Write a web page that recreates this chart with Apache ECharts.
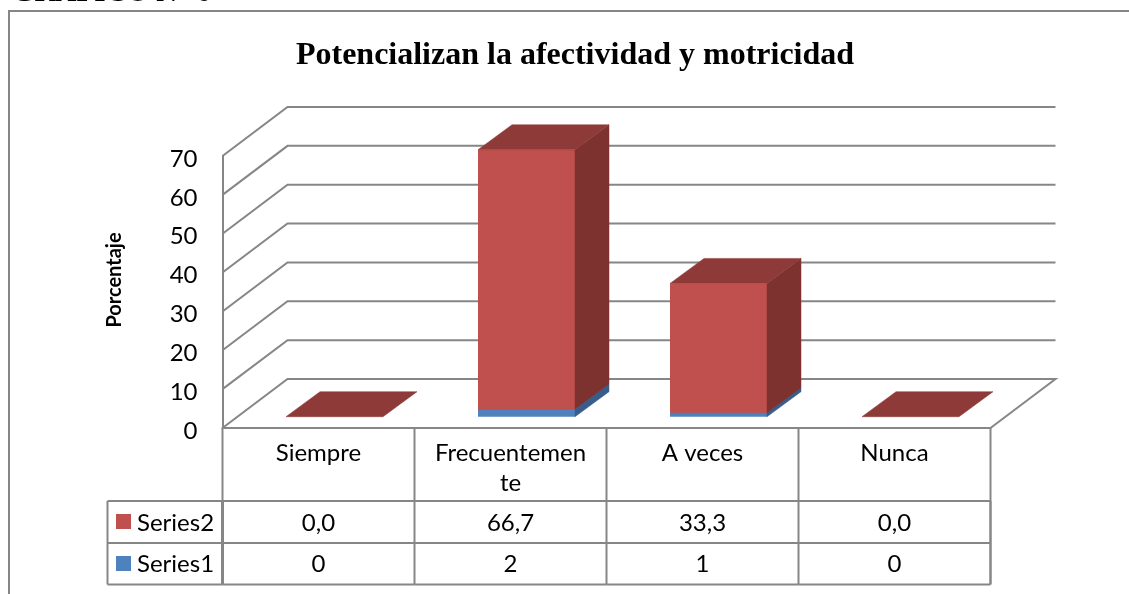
<!DOCTYPE html>
<html><head><meta charset="utf-8">
<style>html,body{margin:0;padding:0;background:#fff}#c{width:1129px;height:594px}</style>
<script src="https://cdn.jsdelivr.net/npm/echarts@6/dist/echarts.min.js"></script>
</head><body><div id="c"></div>
<script>
const categories = ['Siempre', 'Frecuentemente', 'A veces', 'Nunca'];
const categoryLabels = ['Siempre', 'Frecuentemen\nte', 'A veces', 'Nunca'];
const series1Values = [0, 2, 1, 0];
const series2Values = [0.0, 66.7, 33.3, 0.0];
const yTicks = [0, 10, 20, 30, 40, 50, 60, 70];
const seriesNames = ['Series1', 'Series2'];
const chartTitle = 'Potencializan la afectividad y motricidad';
const pageHeading = 'GRAFICO N° 6';
const axisTitle = 'Porcentaje';

const LINE = '#868686';
const FONT = 'Lato';
const DX = 65, DY = -49;
const BAR_DX = 34, BAR_DY = -25, OFF_DX = 16, OFF_DY = -11.3, BAR_W = 97;
const palette = {
  Series1: {front: '#4F81BD', top: '#3F6797', side: '#385D8A'},
  Series2: {front: '#C0504D', top: '#8E3A38', side: '#7D3230'}
};
const ROW = {top: 501, mid: 543, bottom: 584.5, left: 107.5};

function poly(points, fill) {
  return {type: 'polygon', shape: {points}, style: {fill, stroke: fill, lineWidth: 0.5}};
}
function line(x1, y1, x2, y2, w) {
  return {type: 'line', shape: {x1, y1, x2, y2}, style: {stroke: LINE, lineWidth: w || 2, fill: null}};
}
function txt(x, y, text, align) {
  return {type: 'text', style: {x, y, text, fill: '#000', font: '24px ' + FONT, align: align || 'center', verticalAlign: 'middle'}};
}

function renderWall(params, api) {
  const v = api.value(0);
  const y = api.coord([0, v])[1];
  const band = api.size([1, 0])[0];
  const x0 = api.coord([0, v])[0] - band / 2;
  const x1 = x0 + band * categories.length;
  const pts = [[x0, y], [x0 + DX, y + DY], [x1 + DX, y + DY]];
  if (v === 0) pts.push([x1, y]);
  return {type: 'polyline', shape: {points: pts}, style: {stroke: LINE, lineWidth: 2, fill: null}};
}

function renderBar(name) {
  return function (params, api) {
    const cat = api.value(0), base = api.value(1), top = api.value(2);
    const c = palette[name];
    const cx = api.coord([cat, 0])[0] + OFF_DX;
    const xl = cx - BAR_W / 2, xr = cx + BAR_W / 2;
    const yb = api.coord([cat, base])[1] + OFF_DY;
    const yt = api.coord([cat, top])[1] + OFF_DY;
    const children = [];
    if (top > base) {
      children.push({type: 'rect', shape: {x: xl, y: yt, width: BAR_W, height: yb - yt}, style: {fill: c.front}});
      children.push(poly([[xr, yb], [xr + BAR_DX, yb + BAR_DY], [xr + BAR_DX, yt + BAR_DY], [xr, yt]], c.side));
    }
    if (top > base || name === 'Series2') {
      children.push(poly([[xl, yt], [xl + BAR_DX, yt + BAR_DY], [xr + BAR_DX, yt + BAR_DY], [xr, yt]], c.top));
    }
    return {type: 'group', children};
  };
}

function renderTable(params, api) {
  const i = api.value(0);
  const band = api.size([1, 0])[0];
  const cx = api.coord([i, 0])[0];
  const y0 = api.coord([i, 0])[1];
  const xl = cx - band / 2, xr = cx + band / 2;
  const last = categories.length - 1;
  const ch = [
    line(xr, y0, xr, ROW.top, 2),
    line(xr, ROW.top, xr, ROW.bottom, i === last ? 2.5 : 2),
    line(xl, ROW.top, xr, ROW.top),
    line(xl, ROW.mid, xr, ROW.mid),
    line(xl, ROW.bottom, xr, ROW.bottom),
    txt(cx, (ROW.top + ROW.mid) / 2 + 1, series2Values[i].toFixed(1).replace('.', ',')),
    txt(cx, (ROW.mid + ROW.bottom) / 2 + 1, String(series1Values[i]))
  ];
  if (i === 0) {
    ch.push(line(xl, y0, xl, ROW.top, 2), line(xl, ROW.top, xl, ROW.bottom, 3),
      line(ROW.left, ROW.top, xl, ROW.top), line(ROW.left, ROW.mid, xl, ROW.mid),
      line(ROW.left, ROW.bottom, xl, ROW.bottom), line(ROW.left, ROW.top, ROW.left, ROW.bottom),
      {type: 'rect', shape: {x: 116, y: 514, width: 15, height: 15}, style: {fill: palette.Series2.front}},
      {type: 'rect', shape: {x: 116, y: 556, width: 15, height: 15}, style: {fill: palette.Series1.front}},
      txt(137, (ROW.top + ROW.mid) / 2 + 1, seriesNames[1], 'left'),
      txt(137, (ROW.mid + ROW.bottom) / 2 + 1, seriesNames[0], 'left'));
  }
  return {type: 'group', children: ch};
}

const chart = echarts.init(document.getElementById('c'), null, {renderer: 'canvas'});
chart.setOption({
  animation: false,
  backgroundColor: '#fff',
  title: {
    text: chartTitle, left: 570, top: 35, textAlign: 'center',
    textStyle: {fontFamily: 'Liberation Serif', fontWeight: 'bold', fontSize: 32, color: '#000'}
  },
  graphic: [
    {type: 'polyline', silent: true, shape: {points: [[9, 594], [9, 11], [1129, 11]]}, style: {stroke: LINE, lineWidth: 2, fill: null}},
    {type: 'text', silent: true, left: 12, top: -21, style: {text: pageHeading, fill: '#000', font: 'bold 29px "Liberation Serif"'}}
  ],
  grid: {left: 222.5, right: 1129 - 990.5, top: 156, bottom: 594 - 428, containLabel: false},
  xAxis: {
    type: 'category', data: categories,
    axisLine: {show: true, lineStyle: {color: LINE, width: 2}},
    axisTick: {show: false},
    axisLabel: {
      interval: 0, margin: 10, fontFamily: FONT, fontSize: 24, lineHeight: 30, color: '#000', verticalAlign: 'top',
      formatter: (v, i) => categoryLabels[i]
    }
  },
  yAxis: {
    type: 'value', min: 0, max: 70, interval: 10,
    name: axisTitle, nameLocation: 'middle', nameGap: 98,
    nameTextStyle: {fontFamily: FONT, fontWeight: 'bold', fontSize: 20, color: '#000', padding: [0, 0, 0, 24]},
    axisLine: {show: true, lineStyle: {color: LINE, width: 2}},
    axisTick: {show: false},
    splitLine: {show: false},
    axisLabel: {margin: 25, fontFamily: FONT, fontSize: 24, color: '#000', align: 'right', verticalAlign: 'top', lineHeight: 6}
  },
  series: [
    {type: 'custom', name: 'walls', silent: true, z: 1, renderItem: renderWall, data: yTicks.map(v => [v]), encode: {y: 0}},
    {type: 'custom', name: seriesNames[0], z: 2, renderItem: renderBar('Series1'),
      data: categories.map((c, i) => [i, 0, series1Values[i]]), encode: {x: 0, y: [1, 2]}},
    {type: 'custom', name: seriesNames[1], z: 3, renderItem: renderBar('Series2'),
      data: categories.map((c, i) => [i, series1Values[i], series1Values[i] + series2Values[i]]), encode: {x: 0, y: [1, 2]}},
    {type: 'custom', name: 'table', silent: true, z: 4, renderItem: renderTable, data: categories.map((c, i) => [i]), encode: {x: 0}}
  ]
});
</script></body></html>
